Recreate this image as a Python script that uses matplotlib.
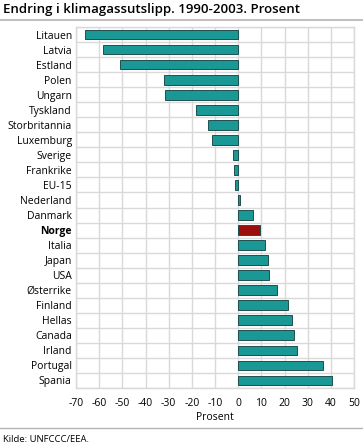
import numpy as np
import matplotlib
matplotlib.use('Agg')
import matplotlib.pyplot as plt
from matplotlib.lines import Line2D

# Data (lest av figuren)
land = ['Litauen', 'Latvia', 'Estland', 'Polen', 'Ungarn', 'Tyskland', 'Storbritannia',
        'Luxemburg', 'Sverige', 'Frankrike', 'EU-15', 'Nederland', 'Danmark', 'Norge',
        'Italia', 'Japan', 'USA', 'Østerrike', 'Finland', 'Hellas', 'Canada', 'Irland',
        'Portugal', 'Spania']
endring = [-66.0, -58.4, -50.8, -31.9, -31.5, -18.3, -13.0, -11.3, -2.4, -1.9, -1.4,
           0.9, 6.3, 9.3, 11.7, 12.9, 13.4, 16.6, 21.7, 23.3, 24.3, 25.3, 36.8, 40.6]
xticks = [-70, -60, -50, -40, -30, -20, -10, 0, 10, 20, 30, 40, 50]

plt.rcParams['font.family'] = ['Open Sans', 'DejaVu Sans']

teal = '#1a9896'
red = '#9b0e0e'
grid = '#d9d9d9'

fig = plt.figure(figsize=(3.63, 4.47), dpi=100)
ax = fig.add_axes([76/363, 1-388/447, (354-76)/363, (388-27)/447])

y = np.arange(len(land))
farger = [red if l == 'Norge' else teal for l in land]
ax.barh(y, endring, height=0.65, color=farger, edgecolor='#1f4f4e', linewidth=0.7, zorder=3)

ax.set_xlim(-70, 50)
ax.set_ylim(len(land) - 0.5, -0.5)
ax.set_xticks(xticks)
ax.set_xticklabels([str(t) for t in xticks], fontsize=7.5)
ax.set_yticks(y)
ax.set_yticklabels(land, fontsize=7.5)
for lbl in ax.get_yticklabels():
    if lbl.get_text() == 'Norge':
        lbl.set_fontweight('bold')
ax.set_yticks(np.arange(len(land) + 1) - 0.5, minor=True)
ax.tick_params(axis='both', which='both', length=0)
ax.tick_params(axis='x', pad=7)
ax.tick_params(axis='y', pad=3)
ax.grid(axis='x', which='major', color=grid, linewidth=1, zorder=0)
ax.grid(axis='y', which='minor', color=grid, linewidth=1, zorder=0)
for s in ax.spines.values():
    s.set_color(grid)
    s.set_linewidth(1)
ax.set_xlabel('Prosent', fontsize=7.5, labelpad=2)

fig.text(3/363, 1-10/447, 'Endring i klimagassutslipp. 1990-2003. Prosent',
         fontsize=9.5, fontweight='semibold', va='center', ha='left')
fig.add_artist(Line2D([0, 1], [1-20/447, 1-20/447], color='#b3b3b3', linewidth=1.2,
                      transform=fig.transFigure))
fig.add_artist(Line2D([0, 1], [1-428/447, 1-428/447], color='#b3b3b3', linewidth=1.0,
                      transform=fig.transFigure))
fig.text(3/363, 1-439/447, 'Kilde: UNFCCC/EEA.', fontsize=6.8, va='center', ha='left')

fig.savefig('out.png', dpi=100)
